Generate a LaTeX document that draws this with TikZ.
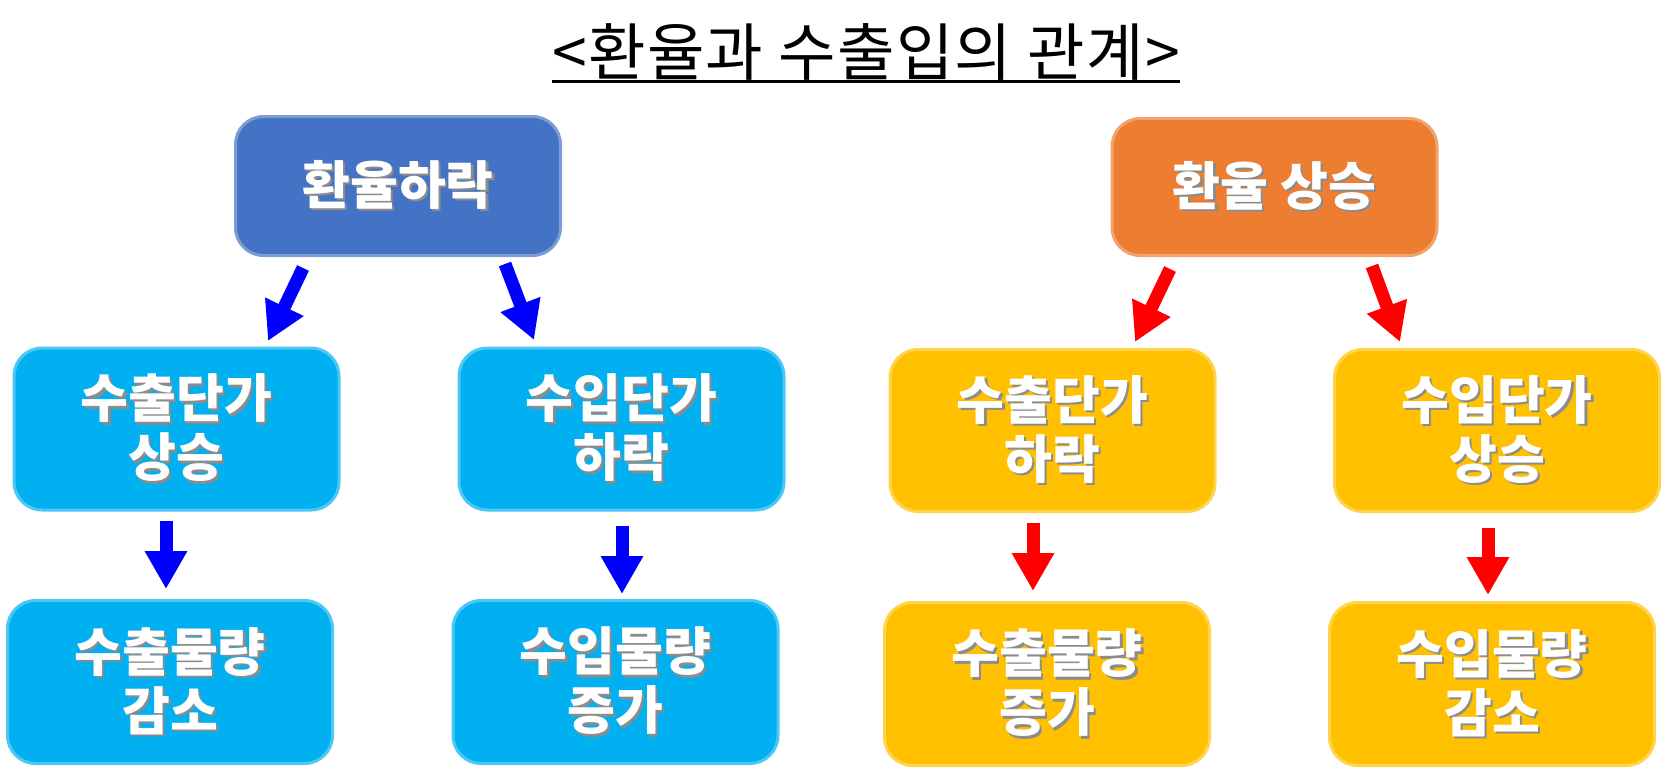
\documentclass[tikz,border=0pt]{standalone}
\usepackage{fontspec}
\newfontfamily\kr{Noto Sans CJK KR}
\newfontfamily\krtitle{Noto Sans CJK KR}[LetterSpace=2]
\usetikzlibrary{arrows.meta}
\definecolor{cblue}{HTML}{4472C4}
\definecolor{corange}{HTML}{ED7D31}
\definecolor{ccyan}{HTML}{00B0F0}
\definecolor{cyellow}{HTML}{FFC000}
\definecolor{ablue}{HTML}{0000FF}
\definecolor{ared}{HTML}{FF0000}
\newcommand{\shtxt}[1]{\leavevmode\rlap{\kern2.2pt\raisebox{-2.2pt}{\textcolor{black!45}{#1}}}#1}
\tikzset{
  box/.style={rounded corners=28pt, minimum width=325pt, inner sep=0pt, text=white,
    font=\kr\bfseries\fontsize{52}{59}\selectfont, align=center,
    fill=#1, draw=#1!70, line width=3pt},
  barrow/.style={draw=ablue, line width=13pt, -{Triangle[width=40pt,length=38pt]}},
  rarrow/.style={draw=ared, line width=13pt, -{Triangle[width=40pt,length=38pt]}},
}
\begin{document}
\begin{tikzpicture}[x=1pt,y=-1pt]
\useasboundingbox (0,0) rectangle (1668,784);
% title
\node[font=\krtitle\fontsize{62.5}{62.5}\selectfont, inner sep=0pt, anchor=base] (title) at (866,75) {<환율과 수출입의 관계>};
\draw[line width=3pt] ([yshift=-7pt]title.base west) -- ([yshift=-7pt]title.base east);
% top boxes
\node[box=cblue, minimum height=139pt] (tb) at (398,186) {\shtxt{환율하락}};
\node[box=corange, minimum height=137pt] (to) at (1274.5,187) {\shtxt{환율 상승}};
% row 2
\node[box=ccyan, minimum height=162pt] (a1) at (176.5,429) {\shtxt{수출단가}\\\shtxt{상승}};
\node[box=ccyan, minimum height=162pt] (a2) at (621.5,429) {\shtxt{수입단가}\\\shtxt{하락}};
\node[box=cyellow, minimum height=162pt] (a3) at (1052.5,430.5) {\shtxt{수출단가}\\\shtxt{하락}};
\node[box=cyellow, minimum height=162pt] (a4) at (1497,430.5) {\shtxt{수입단가}\\\shtxt{상승}};
% row 3
\node[box=ccyan, minimum height=163pt] (b1) at (170,682) {\shtxt{수출물량}\\\shtxt{감소}};
\node[box=ccyan, minimum height=163pt] (b2) at (615.5,682) {\shtxt{수입물량}\\\shtxt{증가}};
\node[box=cyellow, minimum height=163pt] (b3) at (1047,684) {\shtxt{수출물량}\\\shtxt{증가}};
\node[box=cyellow, minimum height=163pt] (b4) at (1492,684) {\shtxt{수입물량}\\\shtxt{감소}};
% arrow end points
\coordinate (p1s) at (303,268); \coordinate (p1e) at (268,341);
\coordinate (p2s) at (505,264); \coordinate (p2e) at (534,340);
\coordinate (p3s) at (1170,269); \coordinate (p3e) at (1135,342);
\coordinate (p4s) at (1372,266); \coordinate (p4e) at (1400,342);
\coordinate (q1s) at (166,521); \coordinate (q1e) at (166,589);
\coordinate (q2s) at (622,526); \coordinate (q2e) at (622,594);
\coordinate (q3s) at (1033,523); \coordinate (q3e) at (1033,591);
\coordinate (q4s) at (1488,528); \coordinate (q4e) at (1488,595);
\draw[barrow] (p1s) -- (p1e);
\draw[barrow] (p2s) -- (p2e);
\draw[rarrow] (p3s) -- (p3e);
\draw[rarrow] (p4s) -- (p4e);
\draw[barrow] (q1s) -- (q1e);
\draw[barrow] (q2s) -- (q2e);
\draw[rarrow] (q3s) -- (q3e);
\draw[rarrow] (q4s) -- (q4e);
\end{tikzpicture}
\end{document}
